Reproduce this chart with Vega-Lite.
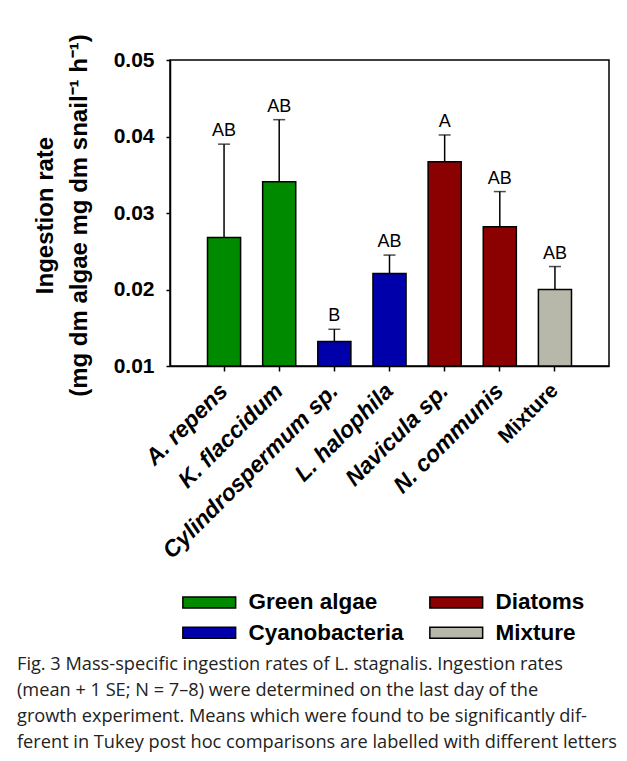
{
  "$schema": "https://vega.github.io/schema/vega-lite/v6.json",
  "width": 439,
  "height": 306,
  "autosize": {"type": "none"},
  "padding": {"left": 170, "top": 60, "right": 18, "bottom": 395},
  "background": "white",
  "data": {
    "values": [
      {"taxon": "A. repens", "group": "Green algae", "rate": 0.0268, "upper": 0.0390, "letter": "AB"},
      {"taxon": "K. flaccidum", "group": "Green algae", "rate": 0.0341, "upper": 0.0422, "letter": "AB"},
      {"taxon": "Cylindrospermum sp.", "group": "Cyanobacteria", "rate": 0.0132, "upper": 0.0148, "letter": "B"},
      {"taxon": "L. halophila", "group": "Cyanobacteria", "rate": 0.0221, "upper": 0.0245, "letter": "AB"},
      {"taxon": "Navicula sp.", "group": "Diatoms", "rate": 0.0367, "upper": 0.0402, "letter": "A"},
      {"taxon": "N. communis", "group": "Diatoms", "rate": 0.0282, "upper": 0.0328, "letter": "AB"},
      {"taxon": "Mixture", "group": "Mixture", "rate": 0.0200, "upper": 0.0230, "letter": "AB"}
    ]
  },
  "title": {
    "text": [
      "Fig. 3  Mass-specific ingestion rates of L. stagnalis. Ingestion rates",
      "(mean + 1 SE; N = 7–8) were determined on the last day of the",
      "growth experiment. Means which were found to be significantly dif-",
      "ferent in Tukey post hoc comparisons are labelled with different letters"
    ],
    "orient": "bottom",
    "anchor": "start",
    "frame": "group",
    "align": "left",
    "dx": -153,
    "offset": 11,
    "font": "Open Sans",
    "fontSize": 18.2,
    "fontWeight": "normal",
    "lineHeight": 26,
    "color": "#222222"
  },
  "encoding": {
    "x": {
      "field": "taxon",
      "type": "nominal",
      "sort": null,
      "scale": {"paddingInner": 0.4, "paddingOuter": 0.68},
      "axis": {
        "title": null,
        "labelAngle": -45,
        "labelAlign": "right",
        "labelBaseline": "middle",
        "labelPadding": 16,
        "labelFont": "Liberation Sans",
        "labelFontSize": {"condition": {"test": "datum.value === 'Mixture'", "value": 21}, "value": 23},
        "labelFontWeight": "bold",
        "labelFontStyle": {"condition": {"test": "datum.value === 'Mixture'", "value": "normal"}, "value": "italic"},
        "labelColor": "black",
        "labelLimit": 400,
        "tickSize": 5,
        "tickColor": "black",
        "tickWidth": 1.5,
        "domainColor": "black",
        "domainWidth": 1.5,
        "labelOverlap": false
      }
    }
  },
  "layer": [
    {
      "mark": {"type": "bar", "stroke": "black", "strokeWidth": 1.5},
      "encoding": {
        "y": {
          "field": "rate",
          "type": "quantitative",
          "scale": {"domain": [0.01, 0.05], "zero": false, "nice": false},
          "axis": {
            "title": ["Ingestion rate", "(mg dm algae mg dm snail⁻¹  h⁻¹)"],
            "titleFont": "Liberation Sans",
            "titleFontSize": 24,
            "titleFontWeight": "bold",
            "titleColor": "black",
            "titleLineHeight": 34,
            "titleBaseline": "middle",
            "titleX": -125,
            "titleY": 155,
            "values": [0.01, 0.02, 0.03, 0.04, 0.05],
            "format": ".2f",
            "labelFont": "Liberation Sans",
            "labelFontSize": 21,
            "labelFontWeight": "bold",
            "labelColor": "black",
            "labelPadding": 12,
            "tickSize": 4,
            "tickColor": "black",
            "tickWidth": 1.5,
            "domainColor": "black",
            "domainWidth": 1.5,
            "grid": false
          }
        },
        "y2": {"datum": 0.01},
        "fill": {
          "field": "group",
          "type": "nominal",
          "scale": {
            "domain": ["Green algae", "Diatoms", "Cyanobacteria", "Mixture"],
            "range": ["#008a00", "#8b0000", "#0000aa", "#b8b8aa"]
          },
          "legend": {
            "title": null,
            "orient": "none",
            "legendX": 28,
            "legendY": 531,
            "direction": "horizontal",
            "columns": 2,
            "columnPadding": 22,
            "rowPadding": 7.5,
            "padding": 0,
            "symbolType": "M-4.8,-1H4.8V1H-4.8Z",
            "symbolSize": 121,
            "symbolStrokeColor": "black",
            "symbolStrokeWidth": 1.5,
            "symbolOpacity": 1,
            "labelOffset": 28,
            "labelFont": "Liberation Sans",
            "labelFontSize": 22.5,
            "labelFontWeight": "bold",
            "labelColor": "black",
            "labelLimit": 0
          }
        }
      }
    },
    {
      "mark": {"type": "rule", "color": "black", "strokeWidth": 1.5},
      "encoding": {
        "y": {"field": "rate", "type": "quantitative"},
        "y2": {"field": "upper"}
      }
    },
    {
      "mark": {"type": "tick", "color": "black", "thickness": 1.5, "size": 12, "orient": "horizontal"},
      "encoding": {
        "y": {"field": "upper", "type": "quantitative"}
      }
    },
    {
      "mark": {"type": "text", "baseline": "bottom", "dy": -4, "font": "Liberation Sans", "fontSize": 18, "color": "black"},
      "encoding": {
        "y": {"field": "upper", "type": "quantitative"},
        "text": {"field": "letter"}
      }
    }
  ],
  "config": {
    "view": {"stroke": "black", "strokeWidth": 1.5}
  }
}
